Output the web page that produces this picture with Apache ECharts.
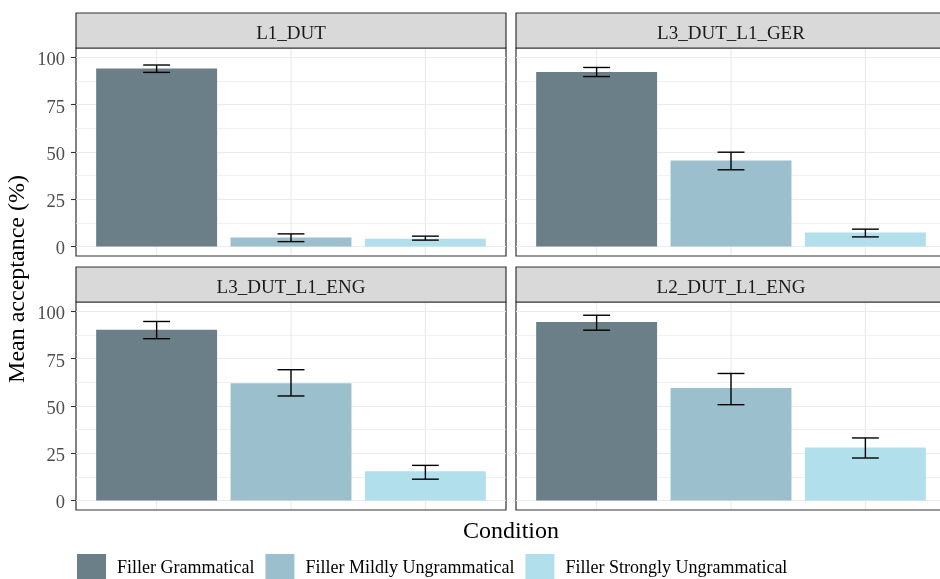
<!DOCTYPE html>
<html>
<head>
<meta charset="utf-8">
<script src="https://cdn.jsdelivr.net/npm/echarts@6/dist/echarts.min.js"></script>
<style>
  html, body { margin: 0; padding: 0; overflow: hidden; background: #ffffff; }
  #chart { width: 950px; height: 579px; }
</style>
</head>
<body>
<div id="chart"></div>
<script>
// Facet groups (panels) and bar conditions
const groups = ['L1_DUT', 'L3_DUT_L1_GER', 'L3_DUT_L1_ENG', 'L2_DUT_L1_ENG'];
const conditions = ['Filler Grammatical', 'Filler Mildly Ungrammatical', 'Filler Strongly Ungrammatical'];

// Mean acceptance (%) per group, one array per condition
const meanGrammatical = [94.1, 92.3, 90.3, 94.4];
const meanMild        = [4.8, 45.5, 62.0, 59.5];
const meanStrong      = [4.1, 7.4, 15.5, 28.0];

// Error bar limits per group
const lowerGrammatical = [92.1, 89.9, 85.6, 90.1];
const upperGrammatical = [96.0, 94.7, 94.7, 98.0];
const lowerMild        = [2.6, 40.6, 55.3, 50.7];
const upperMild        = [6.7, 49.9, 69.2, 67.2];
const lowerStrong      = [3.4, 5.1, 11.3, 22.5];
const upperStrong      = [5.5, 9.2, 18.6, 33.1];

// Axis tick values
const yMajorTicks = [0, 25, 50, 75, 100];
const yMinorTicks = [12.5, 37.5, 62.5, 87.5];
const xPositions = [1, 2, 3];

const means  = [meanGrammatical, meanMild, meanStrong];
const lowers = [lowerGrammatical, lowerMild, lowerStrong];
const uppers = [upperGrammatical, upperMild, upperStrong];

const colors = ['#6A7F88', '#9BBFCD', '#B2DFEC'];
const FONT = "'Liberation Serif', 'Times New Roman', serif";

// Panel layout: 2 x 2 facets, each with a strip on top
const PW = 430, PH = 208, STRIP = 35;
const panels = [
  { left: 76,  top: 48,  showY: true  },
  { left: 516, top: 48,  showY: false },
  { left: 76,  top: 302, showY: true  },
  { left: 516, top: 302, showY: false }
];
const barPx = 0.9 * PW / 3.2;

const grid = [], xAxis = [], yAxis = [], series = [], graphic = [];
const gridLineColor = '#EBEBEB';

panels.forEach((p, i) => {
  grid.push({
    left: p.left, top: p.top, width: PW, height: PH,
    show: true, borderColor: '#333333', borderWidth: 1.2, backgroundColor: 'transparent'
  });
  xAxis.push({
    gridIndex: i, type: 'value', min: 0.4, max: 3.6,
    axisLine: { show: false },
    axisTick: { show: false },
    axisLabel: { show: false },
    splitLine: { show: false }
  });
  yAxis.push({
    gridIndex: i, type: 'value', min: -5, max: 105,
    axisLine: { show: false },
    axisTick: { show: p.showY, customValues: yMajorTicks, length: 5, lineStyle: { color: '#333333', width: 1.1 } },
    axisLabel: {
      show: p.showY, customValues: yMajorTicks, margin: 11,
      verticalAlign: 'top', lineHeight: 6,
      color: '#4D4D4D', fontFamily: FONT, fontSize: 18.5
    },
    splitLine: { show: true, lineStyle: { color: gridLineColor, width: 1.2 } }
  });

  // Facet strip
  graphic.push({
    type: 'rect', z: 10,
    shape: { x: p.left, y: p.top - STRIP, width: PW, height: STRIP },
    style: { fill: '#D9D9D9', stroke: '#333333', lineWidth: 1.2 }
  });
  graphic.push({
    type: 'text', z: 11, x: p.left + PW / 2, y: p.top - STRIP / 2 + 3.5,
    style: { text: groups[i], font: '19px ' + FONT, fill: '#1A1A1A', align: 'center', verticalAlign: 'middle' }
  });

  // Vertical grid lines at each condition position, kept inside the panel border
  series.push({
    type: 'custom', xAxisIndex: i, yAxisIndex: i, z: 1, silent: true,
    encode: { x: 0 },
    data: xPositions.map(v => [v]),
    renderItem: function (params, api) {
      const cs = params.coordSys;
      const x = api.coord([api.value(0), 0])[0];
      return {
        type: 'line',
        shape: { x1: x, y1: cs.y + 1, x2: x, y2: cs.y + cs.height - 1 },
        style: { stroke: gridLineColor, lineWidth: 1.2 }
      };
    }
  });

  // Bars, one series per condition so the legend picks them up
  conditions.forEach((c, k) => {
    series.push({
      type: 'bar', name: c, xAxisIndex: i, yAxisIndex: i, z: 2,
      barWidth: barPx, barGap: '-100%',
      itemStyle: { color: colors[k] },
      data: [[xPositions[k], means[k][i]]]
    });
  });

  // Error bars
  series.push({
    type: 'custom', xAxisIndex: i, yAxisIndex: i, z: 5,
    encode: { x: 0, y: [1, 2] },
    data: conditions.map((c, k) => [xPositions[k], lowers[k][i], uppers[k][i]]),
    renderItem: function (params, api) {
      const x = api.value(0), lo = api.value(1), hi = api.value(2);
      const top = api.coord([x, hi]);
      const bot = api.coord([x, lo]);
      const l = api.coord([x - 0.1, hi])[0];
      const r = api.coord([x + 0.1, hi])[0];
      const st = { stroke: '#000000', lineWidth: 1.4 };
      return {
        type: 'group',
        children: [
          { type: 'line', shape: { x1: top[0], y1: top[1], x2: bot[0], y2: bot[1] }, style: st },
          { type: 'line', shape: { x1: l, y1: top[1], x2: r, y2: top[1] }, style: st },
          { type: 'line', shape: { x1: l, y1: bot[1], x2: r, y2: bot[1] }, style: st }
        ]
      };
    }
  });
});

// Minor horizontal grid lines on hidden companion axes
panels.forEach((p, i) => {
  yAxis.push({
    gridIndex: i, type: 'value', min: -5, max: 105,
    axisLine: { show: false },
    axisTick: { show: false, customValues: yMinorTicks },
    axisLabel: { show: false, customValues: yMinorTicks },
    splitLine: { show: true, lineStyle: { color: gridLineColor, width: 0.7 } }
  });
});

// Axis titles
graphic.push({
  type: 'text', x: 18, y: 279, rotation: Math.PI / 2,
  style: { text: 'Mean acceptance (%)', font: '24px ' + FONT, fill: '#000000', align: 'center', verticalAlign: 'middle' }
});
graphic.push({
  type: 'text', x: 511, y: 531.5,
  style: { text: 'Condition', font: '24px ' + FONT, fill: '#000000', align: 'center', verticalAlign: 'middle' }
});

const chart = echarts.init(document.getElementById('chart'), null, { renderer: 'canvas' });
chart.setOption({
  animation: false,
  backgroundColor: '#ffffff',
  grid, xAxis, yAxis, series, graphic,
  legend: {
    data: conditions,
    left: 77, top: 554, padding: 0,
    icon: 'rect', itemWidth: 29, itemHeight: 28, itemGap: 11,
    selectedMode: false,
    textStyle: { fontFamily: FONT, fontSize: 18, color: '#000000', padding: [0, 0, 0, 6] }
  }
});
</script>
</body>
</html>
